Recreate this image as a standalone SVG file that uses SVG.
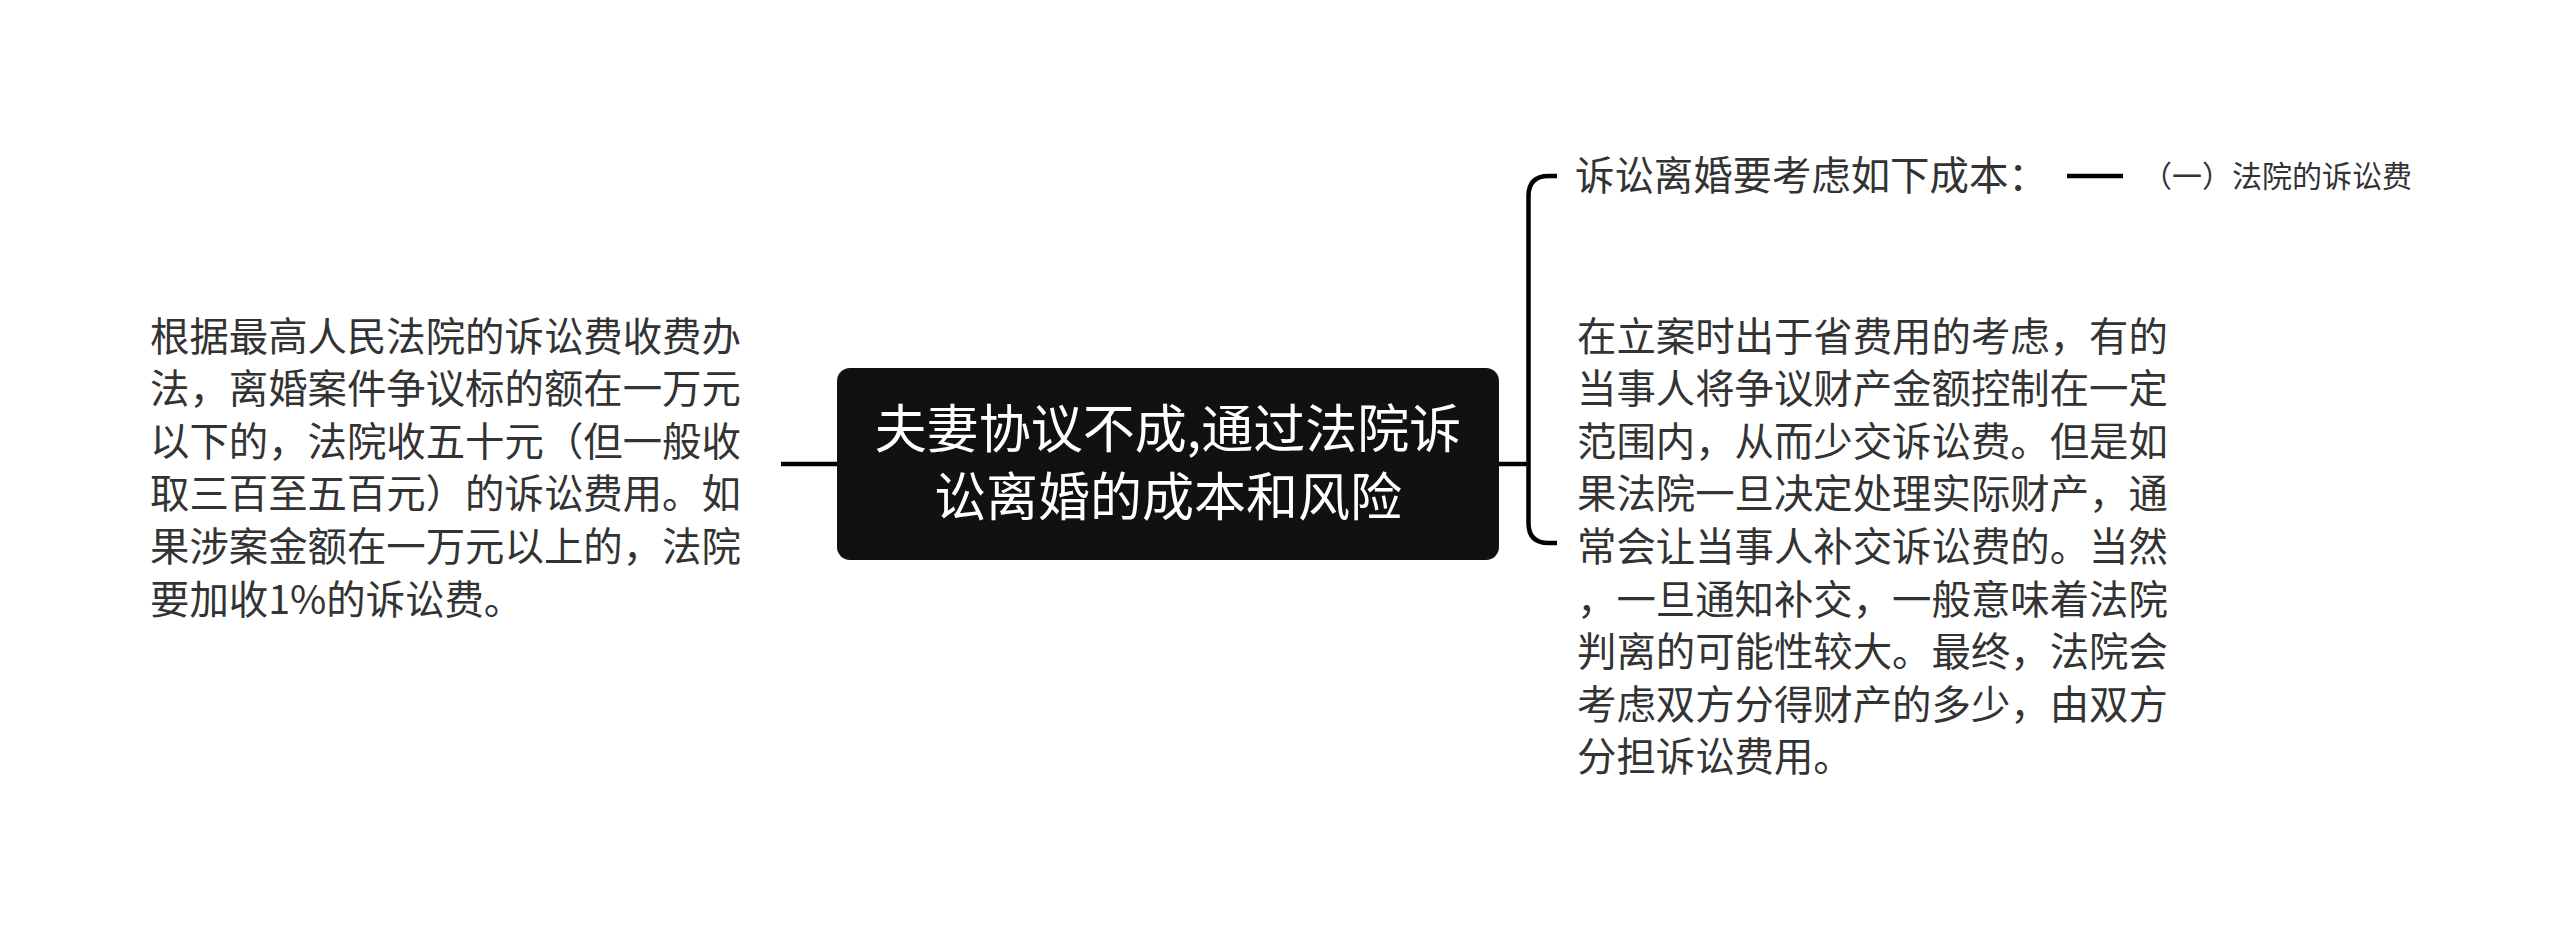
<svg xmlns="http://www.w3.org/2000/svg" width="2560" height="929" viewBox="0 0 2560 929">
<style>
.t{font-family:"Noto Sans CJK SC","Noto Sans",sans-serif;fill:#333333;font-size:39.4px}
.c{font-family:"Noto Sans CJK SC","Noto Sans",sans-serif;fill:#ffffff;font-size:52px}
.s{font-family:"Noto Sans CJK SC","Noto Sans",sans-serif;fill:#333333;font-size:30px}
.ln{fill:none;stroke:#000000;stroke-width:4.5;stroke-linecap:butt}
</style>
<rect width="2560" height="929" fill="#ffffff"/>
<g id="connectors">
<path class="ln" d="M781 464 H838"/>
<path class="ln" d="M1499 464 H1528.5"/>
<path class="ln" d="M1557 176 H1548.5 Q1528.5 176 1528.5 196 V523 Q1528.5 543 1548.5 543 H1557"/>
<path class="ln" d="M2067 176 H2123"/>
</g>
<g id="root">
<rect x="837" y="368" width="662" height="192" rx="13" ry="13" fill="#111111"/>
<text class="c" text-anchor="middle" x="1168" y="448">夫妻协议不成,通过法院诉</text>
<text class="c" text-anchor="middle" x="1168" y="516">讼离婚的成本和风险</text>
</g>
<g id="left-node">
<text class="t" x="150">
<tspan x="150" y="350.5">根据最高人民法院的诉讼费收费办</tspan>
<tspan x="150" y="403">法，离婚案件争议标的额在一万元</tspan>
<tspan x="150" y="455.7">以下的，法院收五十元（但一般收</tspan>
<tspan x="150" y="508.3">取三百至五百元）的诉讼费用。如</tspan>
<tspan x="150" y="561">果涉案金额在一万元以上的，法院</tspan>
<tspan x="150" y="613.5">要加收1%的诉讼费。</tspan>
</text>
</g>
<g id="cost-node">
<text class="t" x="1575" y="190">诉讼离婚要考虑如下成本：</text>
</g>
<g id="fee-node">
<text class="s" x="2142" y="186.5">（一）法院的诉讼费</text>
</g>
<g id="right-node">
<text class="t" x="1577">
<tspan x="1577" y="350.5">在立案时出于省费用的考虑，有的</tspan>
<tspan x="1577" y="403">当事人将争议财产金额控制在一定</tspan>
<tspan x="1577" y="455.7">范围内，从而少交诉讼费。但是如</tspan>
<tspan x="1577" y="508.3">果法院一旦决定处理实际财产，通</tspan>
<tspan x="1577" y="561">常会让当事人补交诉讼费的。当然</tspan>
<tspan x="1577" y="613.5">，一旦通知补交，一般意味着法院</tspan>
<tspan x="1577" y="666">判离的可能性较大。最终，法院会</tspan>
<tspan x="1577" y="718.7">考虑双方分得财产的多少，由双方</tspan>
<tspan x="1577" y="771.3">分担诉讼费用。</tspan>
</text>
</g>
</svg>
